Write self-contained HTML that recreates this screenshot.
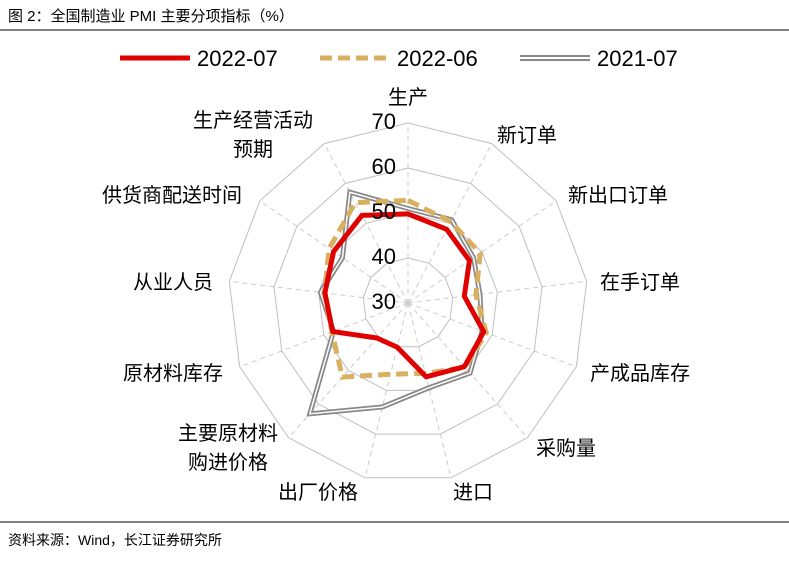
<!DOCTYPE html>
<html><head><meta charset="utf-8"><style>
body{margin:0;background:#fff;width:789px;height:558px;overflow:hidden;font-family:"Liberation Sans","Noto Sans CJK SC",sans-serif;}
</style></head><body>
<svg id="c" width="789" height="558" xmlns="http://www.w3.org/2000/svg">
<text x="8" y="21" font-size="15" fill="#000">图 2：全国制造业 PMI 主要分项指标（%）</text>
<line x1="0" y1="30" x2="789" y2="30" stroke="#000" stroke-width="1"/>
<line x1="0" y1="522" x2="789" y2="522" stroke="#000" stroke-width="1"/>
<text x="8" y="545" font-size="14" fill="#000">资料来源：Wind，长江证券研究所</text>
<g>
<line x1="120" y1="58" x2="190" y2="58" stroke="#e00000" stroke-width="5"/>
<text x="197" y="66" font-size="22">2022-07</text>
<line x1="320" y1="58" x2="390" y2="58" stroke="#d9b060" stroke-width="5" stroke-dasharray="12,6"/>
<text x="397" y="66" font-size="22">2022-06</text>
<line x1="520" y1="58" x2="590" y2="58" stroke="#888" stroke-width="6"/>
<line x1="520" y1="58" x2="590" y2="58" stroke="#fff" stroke-width="2"/>
<text x="597" y="66" font-size="22">2021-07</text>
</g>
<g id="grid"></g><g id="series"></g><g id="ticks"></g><g id="labels"></g>
</svg>
<script>
const categories=["生产","新订单","新出口订单","在手订单","产成品库存","采购量","进口","出厂价格","主要原材料|购进价格","原材料库存","从业人员","供货商配送时间","生产经营活动|预期"];
const s202207=[49.8,48.5,46.6,42.6,48.0,48.9,46.9,40.1,40.4,47.9,48.6,50.1,52.0];
const s202206=[52.8,50.4,49.5,45.2,48.6,49.1,46.1,46.3,52.0,48.1,48.7,51.3,55.2];
const s202107=[51.0,50.9,47.7,46.1,47.6,50.8,49.4,53.8,62.9,47.7,49.6,47.7,57.8];
const ticks=[30,40,50,60,70];
const labelPos=[[408,104],[527,142],[618,202],[640,289],[640,380],[566,455],[473,499],[318,499],[228,440],[173,380],[173,289],[172,202],[253,127]];
const cx=408,cy=303,vmin=30,vmax=70,R=180;
const NS="http://www.w3.org/2000/svg";
const rScale=v=>(v-vmin)/(vmax-vmin)*R;
const ang=i=>i*2*Math.PI/categories.length;
const pt=(i,v)=>[cx+rScale(v)*Math.sin(ang(i)),cy-rScale(v)*Math.cos(ang(i))];
function mk(t,a,p){const e=document.createElementNS(NS,t);for(const k in a)e.setAttribute(k,a[k]);p.appendChild(e);return e;}
const grid=document.getElementById('grid');
categories.forEach((c,i)=>{const [x,y]=pt(i,vmax);
const l=mk('line',{x1:cx,y1:cy,x2:x,y2:y,stroke:'#ccc','stroke-dasharray':'5,4'},grid);

});
ticks.slice(1).forEach(t=>{const p=categories.map((c,i)=>pt(i,t).join(',')).join(' ');
const g=mk('polygon',{points:p,fill:'none',stroke:'#bfbfbf','stroke-width':1},grid);

});
const tg=document.getElementById('ticks');
ticks.forEach(t=>{const y=cy-rScale(t);
const tx=mk('text',{x:cx-12,y:y+6,'font-size':22,'text-anchor':'end'},tg);tx.textContent=t;

});
const sg=document.getElementById('series');
function poly(vals){return vals.map((v,i)=>pt(i,v).join(',')).join(' ');}
let a=mk('polygon',{points:poly(s202107),fill:'none',stroke:'#888','stroke-width':5},sg);


mk('polygon',{points:poly(s202107),fill:'none',stroke:'#fff','stroke-width':1.5},sg);
let b=mk('polygon',{points:poly(s202206),fill:'none',stroke:'#d9b060','stroke-width':5,'stroke-dasharray':'12,6'},sg);


let r=mk('polygon',{points:poly(s202207),fill:'none',stroke:'#e00000','stroke-width':5,'stroke-linejoin':'round'},sg);


const lg=document.getElementById('labels');
categories.forEach((c,i)=>{const parts=c.split('|');const [x,y]=labelPos[i];
parts.forEach((p,k)=>{const t=mk('text',{x:x,y:y+k*29,'font-size':20,'text-anchor':'middle'},lg);t.textContent=p;

});});
</script>
</body></html>
